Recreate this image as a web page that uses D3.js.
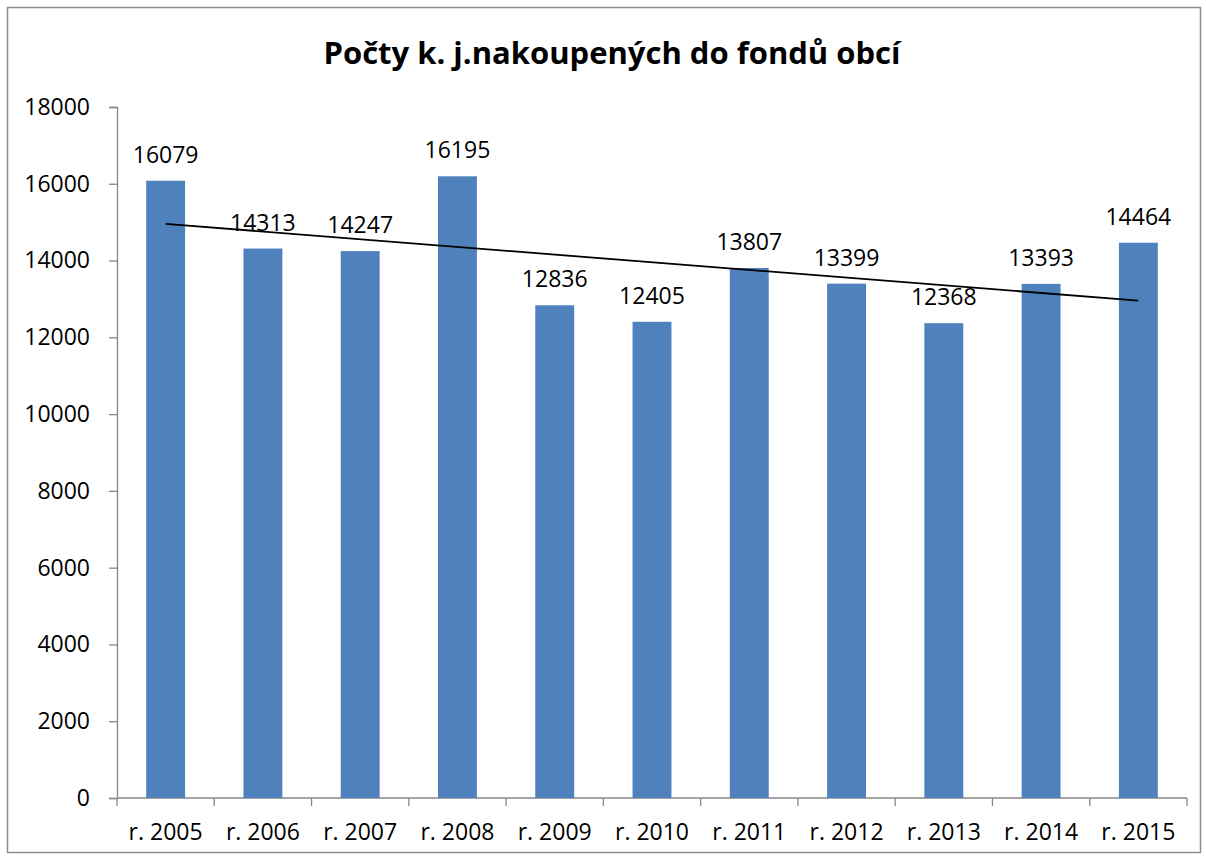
<!DOCTYPE html>
<html><head><meta charset="utf-8">
<script src="https://cdn.jsdelivr.net/npm/d3@7"></script>
<style>body{margin:0;background:#fff}svg{display:block}text{font-family:"Open Sans",sans-serif}</style>
</head><body>
<svg id="c" width="1206" height="858"></svg>
<script>
const categories = ["r. 2005","r. 2006","r. 2007","r. 2008","r. 2009","r. 2010","r. 2011","r. 2012","r. 2013","r. 2014","r. 2015"];
const values = [16079,14313,14247,16195,12836,12405,13807,13399,12368,13393,14464];
const yTicks = [0,2000,4000,6000,8000,10000,12000,14000,16000,18000];
const title = "Počty k. j.nakoupených do fondů obcí";

const svg = d3.select("#c");
svg.append("rect").attr("x",7.5).attr("y",7.5).attr("width",1193).attr("height",845)
  .attr("fill","#fff").attr("stroke","#8c8c8c").attr("stroke-width",1.5);

const L=117, R=1187, T=107, B=798;
const x = d3.scaleBand().domain(categories).range([L,R]).paddingInner(0.6).paddingOuter(0.3);
const y = d3.scaleLinear().domain([0,18000]).range([B,T]);

svg.append("text").attr("x",612).attr("y",64).attr("text-anchor","middle")
  .attr("font-size",31).attr("font-weight","bold").text(title);

// y axis
const ya = svg.append("g").attr("transform",`translate(${L},0)`)
  .call(d3.axisLeft(y).tickValues(yTicks).tickSize(8).tickPadding(19).tickFormat(d3.format("d")));
ya.selectAll("text").attr("font-size",23).attr("fill","#000").style("font-family","Open Sans");
ya.selectAll("line,path").attr("stroke","#868686").attr("stroke-width",1.3);

// x axis
const xb = d3.scaleLinear().domain([0,categories.length]).range([L,R]);
const xa = svg.append("g").attr("transform",`translate(0,${B})`);
xa.append("line").attr("x1",L).attr("x2",R).attr("stroke","#868686").attr("stroke-width",1.3);
xa.selectAll("line.t").data(d3.range(categories.length+1)).join("line").attr("class","t")
  .attr("x1",d=>xb(d)).attr("x2",d=>xb(d)).attr("y1",0).attr("y2",8).attr("stroke","#868686").attr("stroke-width",1.3);
xa.selectAll("text").data(categories).join("text")
  .attr("x",d=>x(d)+x.bandwidth()/2).attr("y",42).attr("text-anchor","middle").attr("font-size",23).text(d=>d);

// bars
svg.selectAll("rect.bar").data(values).join("rect").attr("class","bar")
  .attr("x",(d,i)=>x(categories[i])).attr("width",x.bandwidth())
  .attr("y",d=>y(d)).attr("height",d=>B-y(d)).attr("fill","#4f81bd");

// linear trend
const n=values.length, idx=d3.range(1,n+1);
const mx=d3.mean(idx), my=d3.mean(values);
const slope=d3.sum(idx.map((v,i)=>(v-mx)*(values[i]-my)))/d3.sum(idx.map(v=>(v-mx)**2));
const icpt=my-slope*mx;
const cx=i=>x(categories[i])+x.bandwidth()/2;
svg.append("line").attr("x1",cx(0)).attr("x2",cx(n-1))
  .attr("y1",y(icpt+slope*1)).attr("y2",y(icpt+slope*n)).attr("stroke","#000").attr("stroke-width",1.8);

// labels
svg.selectAll("text.lab").data(values).join("text").attr("class","lab")
  .attr("x",(d,i)=>cx(i)).attr("y",d=>y(d)-18).attr("text-anchor","middle").attr("font-size",23).text(d=>d);
</script>
</body></html>
